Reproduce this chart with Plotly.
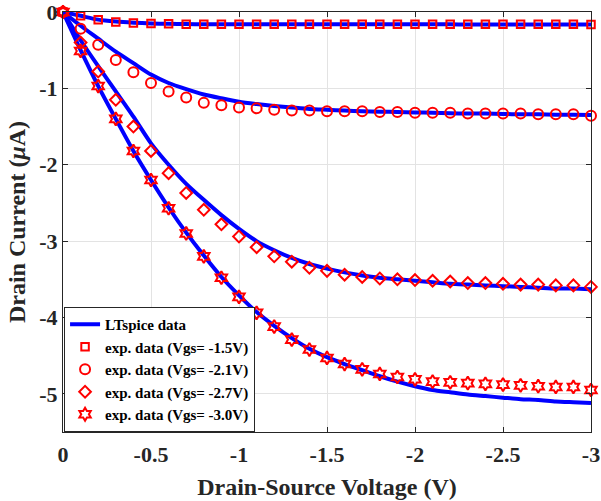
import plotly.graph_objects as go

vds = [0, -0.1, -0.2, -0.3, -0.4, -0.5, -0.6, -0.7, -0.8, -0.9, -1.0,
       -1.1, -1.2, -1.3, -1.4, -1.5, -1.6, -1.7, -1.8, -1.9, -2.0,
       -2.1, -2.2, -2.3, -2.4, -2.5, -2.6, -2.7, -2.8, -2.9, -3.0]

# LTspice simulated curves
sim_15 = [0, -0.05, -0.10, -0.125, -0.14, -0.15, -0.155, -0.158, -0.16, -0.16, -0.16,
          -0.16, -0.16, -0.16, -0.16, -0.16, -0.16, -0.16, -0.16, -0.16, -0.162,
          -0.162, -0.162, -0.163, -0.163, -0.163, -0.164, -0.164, -0.165, -0.165, -0.165]
sim_21 = [0, -0.18, -0.35, -0.52, -0.67, -0.82, -0.93, -1.01, -1.08, -1.13, -1.175,
          -1.205, -1.23, -1.25, -1.27, -1.28, -1.29, -1.30, -1.305, -1.31, -1.315,
          -1.32, -1.325, -1.33, -1.33, -1.335, -1.34, -1.34, -1.345, -1.345, -1.35]
sim_27 = [0, -0.37, -0.71, -1.04, -1.37, -1.72, -2.00, -2.25, -2.46, -2.66, -2.84,
          -3.00, -3.12, -3.22, -3.30, -3.36, -3.41, -3.45, -3.48, -3.50, -3.52,
          -3.54, -3.56, -3.57, -3.58, -3.59, -3.60, -3.61, -3.62, -3.62, -3.63]
sim_30 = [0, -0.50, -0.97, -1.40, -1.82, -2.20, -2.56, -2.89, -3.19, -3.47, -3.71,
          -3.93, -4.11, -4.27, -4.41, -4.52, -4.61, -4.69, -4.77, -4.84, -4.90,
          -4.95, -4.98, -5.01, -5.03, -5.05, -5.07, -5.08, -5.10, -5.11, -5.12]

# experimental data
exp_15 = [0, -0.05, -0.10, -0.13, -0.145, -0.15, -0.155, -0.16, -0.16, -0.16, -0.16,
          -0.16, -0.16, -0.16, -0.16, -0.16, -0.16, -0.16, -0.16, -0.16, -0.16,
          -0.16, -0.16, -0.16, -0.16, -0.16, -0.16, -0.16, -0.16, -0.16, -0.165]
exp_21 = [0, -0.22, -0.43, -0.63, -0.79, -0.93, -1.04, -1.12, -1.19, -1.22, -1.25,
          -1.26, -1.28, -1.29, -1.29, -1.30, -1.30, -1.30, -1.31, -1.31, -1.32,
          -1.32, -1.32, -1.33, -1.33, -1.33, -1.33, -1.34, -1.34, -1.34, -1.36]
exp_27 = [0, -0.40, -0.78, -1.15, -1.50, -1.82, -2.11, -2.37, -2.59, -2.78, -2.94,
          -3.08, -3.20, -3.27, -3.35, -3.39, -3.44, -3.47, -3.49, -3.50, -3.51,
          -3.52, -3.53, -3.55, -3.55, -3.56, -3.57, -3.57, -3.58, -3.58, -3.60]
exp_30 = [0, -0.51, -0.97, -1.40, -1.82, -2.20, -2.57, -2.90, -3.20, -3.48, -3.73,
          -3.94, -4.12, -4.29, -4.42, -4.53, -4.61, -4.68, -4.74, -4.78, -4.81,
          -4.84, -4.85, -4.86, -4.87, -4.88, -4.89, -4.90, -4.91, -4.91, -4.95]

x_ticks = [0, -0.5, -1, -1.5, -2, -2.5, -3]
x_tick_text = ["0", "-0.5", "-1", "-1.5", "-2", "-2.5", "-3"]
y_ticks = [0, -1, -2, -3, -4, -5]
y_tick_text = ["0", "-1", "-2", "-3", "-4", "-5"]

FONT = "Liberation Serif, Times New Roman, serif"
BLUE = "rgb(0,0,255)"
RED = "rgb(255,0,0)"

fig = go.Figure()
for i, ys in enumerate([sim_15, sim_21, sim_27, sim_30]):
    fig.add_trace(go.Scatter(
        x=vds, y=ys, mode="lines", line=dict(color=BLUE, width=4, shape="spline", smoothing=0.6),
        name="LTspice data", showlegend=(i == 0)))

markers = [
    (exp_15, "square-open", 7.5, "exp. data (Vgs= -1.5V)"),
    (exp_21, "circle-open", 10, "exp. data (Vgs= -2.1V)"),
    (exp_27, "diamond-open", 9, "exp. data (Vgs= -2.7V)"),
    (exp_30, "hexagram-open", 10, "exp. data (Vgs= -3.0V)"),
]
for ys, sym, sz, nm in markers:
    fig.add_trace(go.Scatter(
        x=vds, y=ys, mode="markers", name=nm, cliponaxis=False,
        marker=dict(symbol=sym, size=sz, color=RED, line=dict(color=RED, width=2))))

axis_common = dict(
    showline=True, linecolor="#262626", linewidth=1, mirror="ticks",
    ticks="inside", ticklen=5, tickcolor="#262626", automargin=False,
    ticklabeloverflow="allow",
    showgrid=True, gridcolor="#e3e3e3", gridwidth=1, zeroline=False,
    tickfont=dict(family=FONT, size=22, color="#262626", weight="bold"),
)

fig.update_layout(
    width=601, height=501,
    margin=dict(l=63, r=10, t=12, b=69),
    paper_bgcolor="white", plot_bgcolor="white",
    xaxis=dict(range=[0, -3], tickvals=x_ticks, ticktext=x_tick_text,
               ticklabelstandoff=3,
               title=dict(text="Drain-Source Voltage (V)", standoff=11,
                          font=dict(family=FONT, size=24, color="#262626", weight="bold")),
               **axis_common),
    yaxis=dict(range=[-5.5, 0], tickvals=y_ticks, ticktext=y_tick_text,
               title=dict(text="Drain Current (<i>μ</i>A)", standoff=6,
                          font=dict(family=FONT, size=24, color="#262626", weight="bold")),
               **axis_common),
    legend=dict(x=0.002, y=0.0, xanchor="left", yanchor="bottom",
                bgcolor="white", bordercolor="#262626", borderwidth=1,
                font=dict(family=FONT, size=15, color="black", weight="bold"),
                itemwidth=30, tracegroupgap=0),
)

fig.write_html("out.html")
